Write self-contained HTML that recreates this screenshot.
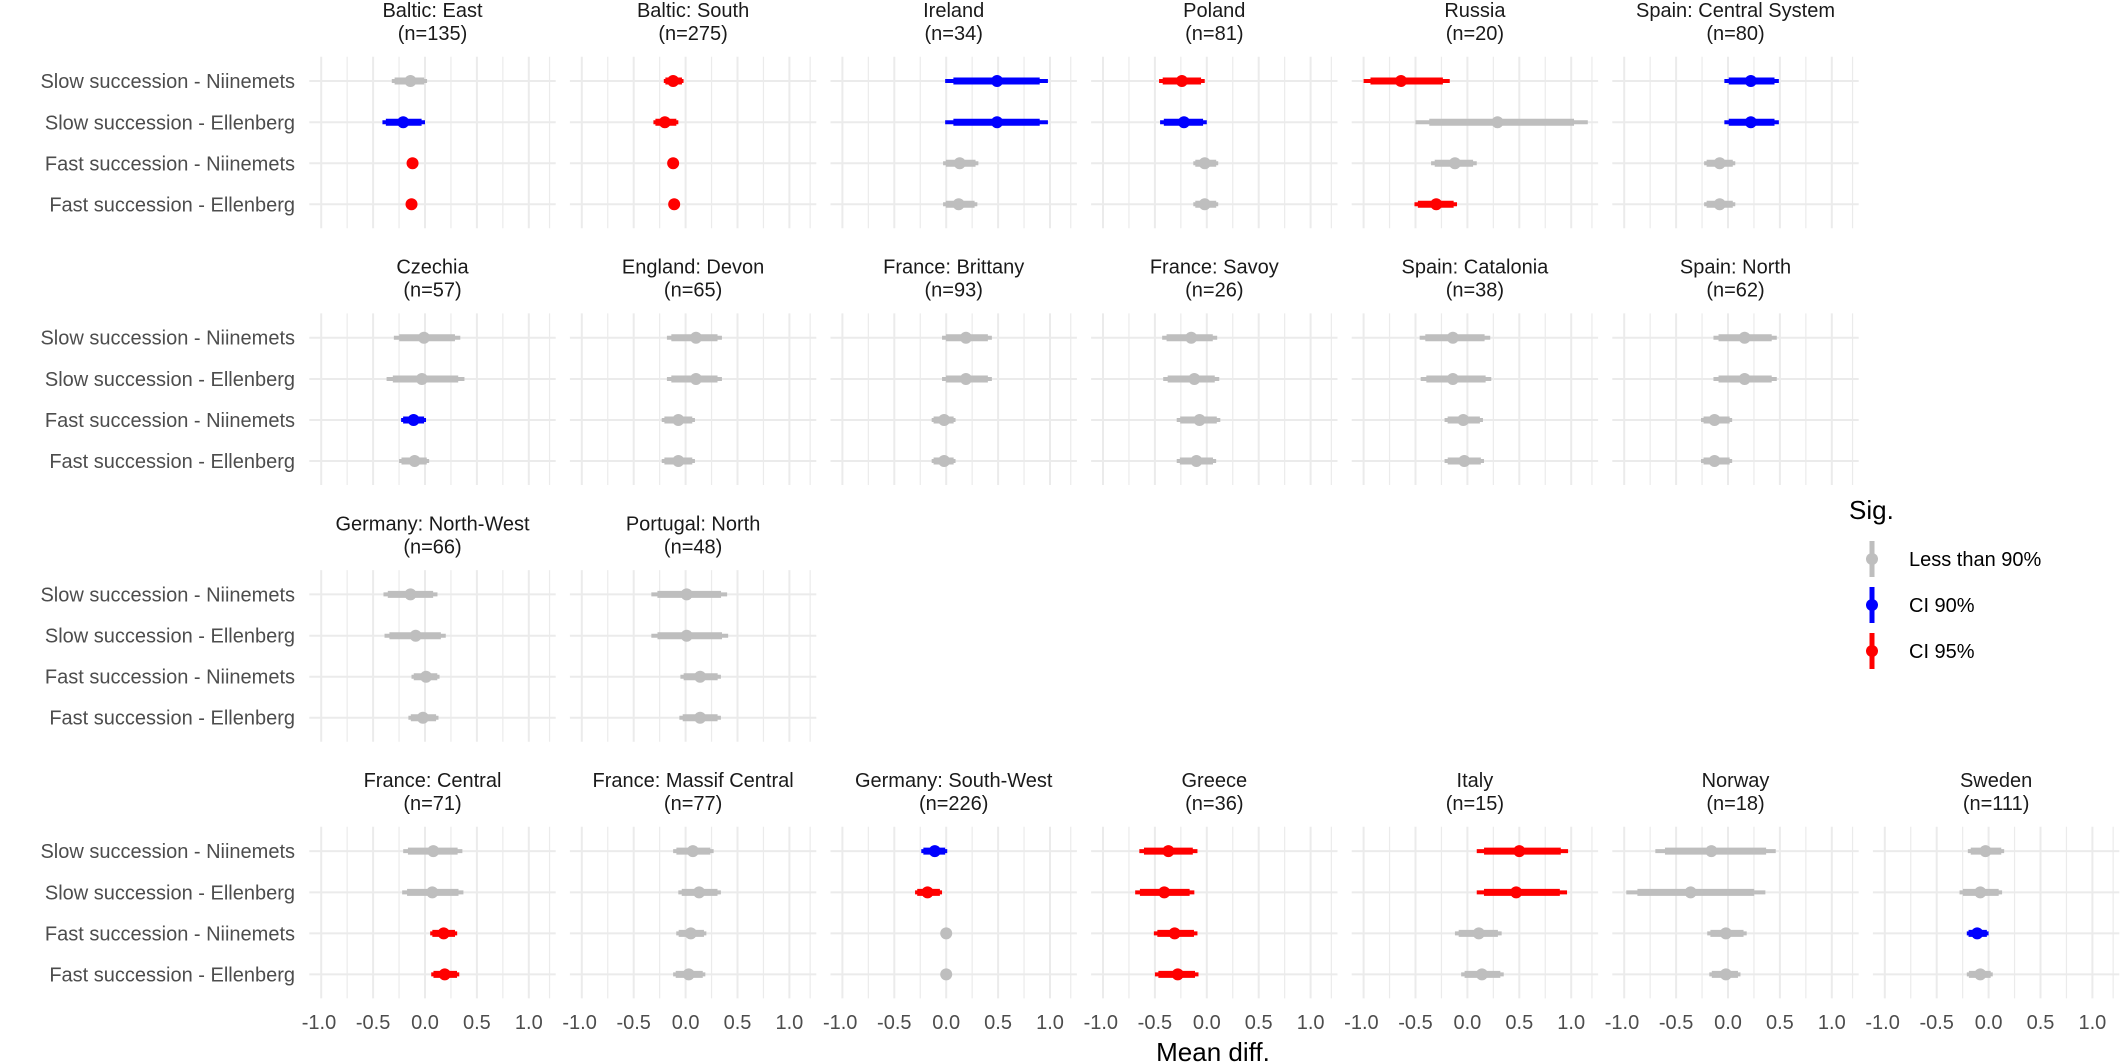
<!DOCTYPE html>
<html><head><meta charset="utf-8"><style>
html,body{margin:0;padding:0;background:#fff;}
svg{display:block;font-family:"Liberation Sans",Arial,sans-serif;}
.t{font-size:20px;fill:#1a1a1a;text-anchor:middle;}
.y{font-size:20px;fill:#4d4d4d;text-anchor:end;}
.x{font-size:20px;fill:#4d4d4d;text-anchor:middle;}
</style></head><body>
<svg id="s" width="2120" height="1063" viewBox="0 0 2120 1063" xmlns="http://www.w3.org/2000/svg">
<g id="grid"></g>
<g id="marks"></g>
<g class="t">
<text x="432.5" y="17">Baltic: East</text><text x="432.5" y="40">(n=135)</text>
<text x="693.1" y="17">Baltic: South</text><text x="693.1" y="40">(n=275)</text>
<text x="953.7" y="17">Ireland</text><text x="953.7" y="40">(n=34)</text>
<text x="1214.3" y="17">Poland</text><text x="1214.3" y="40">(n=81)</text>
<text x="1474.9" y="17">Russia</text><text x="1474.9" y="40">(n=20)</text>
<text x="1735.5" y="17">Spain: Central System</text><text x="1735.5" y="40">(n=80)</text>
<text x="432.5" y="273.7">Czechia</text><text x="432.5" y="296.7">(n=57)</text>
<text x="693.1" y="273.7">England: Devon</text><text x="693.1" y="296.7">(n=65)</text>
<text x="953.7" y="273.7">France: Brittany</text><text x="953.7" y="296.7">(n=93)</text>
<text x="1214.3" y="273.7">France: Savoy</text><text x="1214.3" y="296.7">(n=26)</text>
<text x="1474.9" y="273.7">Spain: Catalonia</text><text x="1474.9" y="296.7">(n=38)</text>
<text x="1735.5" y="273.7">Spain: North</text><text x="1735.5" y="296.7">(n=62)</text>
<text x="432.5" y="530.4">Germany: North-West</text><text x="432.5" y="553.4">(n=66)</text>
<text x="693.1" y="530.4">Portugal: North</text><text x="693.1" y="553.4">(n=48)</text>
<text x="432.5" y="787">France: Central</text><text x="432.5" y="810">(n=71)</text>
<text x="693.1" y="787">France: Massif Central</text><text x="693.1" y="810">(n=77)</text>
<text x="953.7" y="787">Germany: South-West</text><text x="953.7" y="810">(n=226)</text>
<text x="1214.3" y="787">Greece</text><text x="1214.3" y="810">(n=36)</text>
<text x="1474.9" y="787">Italy</text><text x="1474.9" y="810">(n=15)</text>
<text x="1735.5" y="787">Norway</text><text x="1735.5" y="810">(n=18)</text>
<text x="1996.1" y="787">Sweden</text><text x="1996.1" y="810">(n=111)</text>
</g>
<g class="y">
<text x="295" y="88">Slow succession - Niinemets</text><text x="295" y="129.3">Slow succession - Ellenberg</text><text x="295" y="170.3">Fast succession - Niinemets</text><text x="295" y="211.3">Fast succession - Ellenberg</text>
<text x="295" y="344.7">Slow succession - Niinemets</text><text x="295" y="386">Slow succession - Ellenberg</text><text x="295" y="427">Fast succession - Niinemets</text><text x="295" y="468">Fast succession - Ellenberg</text>
<text x="295" y="601.4">Slow succession - Niinemets</text><text x="295" y="642.7">Slow succession - Ellenberg</text><text x="295" y="683.7">Fast succession - Niinemets</text><text x="295" y="724.7">Fast succession - Ellenberg</text>
<text x="295" y="858.1">Slow succession - Niinemets</text><text x="295" y="899.4">Slow succession - Ellenberg</text><text x="295" y="940.4">Fast succession - Niinemets</text><text x="295" y="981.4">Fast succession - Ellenberg</text>
</g>
<g class="x">
<g><text x="319" y="1029">-1.0</text><text x="373.1" y="1029">-0.5</text><text x="425" y="1029">0.0</text><text x="476.9" y="1029">0.5</text><text x="528.8" y="1029">1.0</text></g>
<g transform="translate(260.6,0)"><text x="319" y="1029">-1.0</text><text x="373.1" y="1029">-0.5</text><text x="425" y="1029">0.0</text><text x="476.9" y="1029">0.5</text><text x="528.8" y="1029">1.0</text></g>
<g transform="translate(521.2,0)"><text x="319" y="1029">-1.0</text><text x="373.1" y="1029">-0.5</text><text x="425" y="1029">0.0</text><text x="476.9" y="1029">0.5</text><text x="528.8" y="1029">1.0</text></g>
<g transform="translate(781.8,0)"><text x="319" y="1029">-1.0</text><text x="373.1" y="1029">-0.5</text><text x="425" y="1029">0.0</text><text x="476.9" y="1029">0.5</text><text x="528.8" y="1029">1.0</text></g>
<g transform="translate(1042.4,0)"><text x="319" y="1029">-1.0</text><text x="373.1" y="1029">-0.5</text><text x="425" y="1029">0.0</text><text x="476.9" y="1029">0.5</text><text x="528.8" y="1029">1.0</text></g>
<g transform="translate(1303,0)"><text x="319" y="1029">-1.0</text><text x="373.1" y="1029">-0.5</text><text x="425" y="1029">0.0</text><text x="476.9" y="1029">0.5</text><text x="528.8" y="1029">1.0</text></g>
<g transform="translate(1563.6,0)"><text x="319" y="1029">-1.0</text><text x="373.1" y="1029">-0.5</text><text x="425" y="1029">0.0</text><text x="476.9" y="1029">0.5</text><text x="528.8" y="1029">1.0</text></g>
</g>
<text x="1213" y="1061" style="font-size:26px;fill:#000;text-anchor:middle">Mean diff.</text>
<text x="1849" y="519" style="font-size:26px;fill:#000">Sig.</text>
<g>
<line x1="1872" y1="541" x2="1872" y2="577" stroke="#bebebe" stroke-width="5"/><circle cx="1872" cy="559" r="6" fill="#bebebe"/>
<line x1="1872" y1="587" x2="1872" y2="623" stroke="#0000ff" stroke-width="5"/><circle cx="1872" cy="605" r="6" fill="#0000ff"/>
<line x1="1872" y1="633" x2="1872" y2="669" stroke="#ff0000" stroke-width="5"/><circle cx="1872" cy="651" r="6" fill="#ff0000"/>
</g>
<g style="font-size:20px;fill:#000">
<text x="1909" y="566">Less than 90%</text>
<text x="1909" y="612">CI 90%</text>
<text x="1909" y="658">CI 95%</text>
</g>
</svg>
<script>
var G='#bebebe',B='#0000ff',R='#ff0000';
// [row,col, [[dot,lo,hi,color] x4]]
var P=[
[0,0,[[-0.14,-0.32,0.02,G],[-0.21,-0.41,0.0,B],[-0.12,-0.16,-0.08,R],[-0.13,-0.17,-0.09,R]]],
[0,1,[[-0.12,-0.21,-0.02,R],[-0.2,-0.31,-0.07,R],[-0.12,-0.15,-0.09,R],[-0.11,-0.14,-0.08,R]]],
[0,2,[[0.49,-0.01,0.98,B],[0.49,-0.01,0.98,B],[0.13,-0.03,0.31,G],[0.12,-0.03,0.3,G]]],
[0,3,[[-0.24,-0.46,-0.02,R],[-0.22,-0.45,0.0,B],[-0.02,-0.13,0.11,G],[-0.02,-0.13,0.11,G]]],
[0,4,[[-0.64,-1.0,-0.17,R],[0.29,-0.5,1.16,G],[-0.12,-0.35,0.09,G],[-0.3,-0.51,-0.1,R]]],
[0,5,[[0.22,-0.035,0.49,B],[0.22,-0.035,0.49,B],[-0.08,-0.23,0.07,G],[-0.08,-0.23,0.07,G]]],
[1,0,[[-0.01,-0.3,0.34,G],[-0.03,-0.37,0.38,G],[-0.11,-0.23,0.01,B],[-0.1,-0.25,0.04,G]]],
[1,1,[[0.1,-0.18,0.35,G],[0.1,-0.18,0.35,G],[-0.07,-0.23,0.09,G],[-0.07,-0.23,0.09,G]]],
[1,2,[[0.19,-0.04,0.44,G],[0.19,-0.04,0.44,G],[-0.02,-0.14,0.09,G],[-0.02,-0.14,0.09,G]]],
[1,3,[[-0.15,-0.43,0.1,G],[-0.12,-0.42,0.12,G],[-0.07,-0.29,0.13,G],[-0.1,-0.29,0.09,G]]],
[1,4,[[-0.14,-0.46,0.22,G],[-0.14,-0.45,0.23,G],[-0.04,-0.22,0.15,G],[-0.03,-0.22,0.16,G]]],
[1,5,[[0.16,-0.14,0.47,G],[0.16,-0.14,0.47,G],[-0.13,-0.26,0.04,G],[-0.13,-0.26,0.04,G]]],
[2,0,[[-0.14,-0.4,0.12,G],[-0.09,-0.39,0.2,G],[0.01,-0.13,0.14,G],[-0.02,-0.16,0.13,G]]],
[2,1,[[0.01,-0.33,0.4,G],[0.01,-0.33,0.41,G],[0.14,-0.05,0.34,G],[0.14,-0.06,0.34,G]]],
[3,0,[[0.08,-0.21,0.36,G],[0.07,-0.22,0.37,G],[0.18,0.05,0.31,R],[0.19,0.06,0.33,R]]],
[3,1,[[0.07,-0.12,0.27,G],[0.13,-0.07,0.34,G],[0.05,-0.09,0.2,G],[0.03,-0.12,0.19,G]]],
[3,2,[[-0.11,-0.24,0.01,B],[-0.18,-0.3,-0.04,R],[0.0,-0.02,0.02,G],[0.0,-0.02,0.02,G]]],
[3,3,[[-0.37,-0.65,-0.09,R],[-0.41,-0.69,-0.12,R],[-0.31,-0.51,-0.09,R],[-0.28,-0.5,-0.08,R]]],
[3,4,[[0.5,0.09,0.97,R],[0.47,0.09,0.96,R],[0.11,-0.12,0.33,G],[0.14,-0.06,0.35,G]]],
[3,5,[[-0.16,-0.7,0.46,G],[-0.36,-0.98,0.36,G],[-0.02,-0.2,0.18,G],[-0.02,-0.18,0.12,G]]],
[3,6,[[-0.03,-0.2,0.15,G],[-0.08,-0.28,0.13,G],[-0.11,-0.21,0.0,B],[-0.08,-0.21,0.04,G]]]
];
var ns='http://www.w3.org/2000/svg',grid=document.getElementById('grid'),mk=document.getElementById('marks');
function el(p,t,a){var e=document.createElementNS(ns,t);for(var k in a)e.setAttribute(k,a[k]);p.appendChild(e);return e;}
var RY=[24.3,65.6,106.6,147.6];
P.forEach(function(p){
 var L=309.3+260.6*p[1],T=56.7+256.7*p[0];
 function X(v){return L+115.7+103.8*Math.max(-1.1,Math.min(1.2,v));}
 for(var i=0;i<10;i++){var v=-1+0.25*i;el(grid,'line',{x1:X(v),x2:X(v),y1:T,y2:T+171.6,stroke:'#ebebeb','stroke-width':(i%2?1.2:2)});}
 RY.forEach(function(ry){el(grid,'line',{x1:L,x2:L+246.4,y1:T+ry,y2:T+ry,stroke:'#ebebeb','stroke-width':2});});
 p[2].forEach(function(d,i){var y=T+RY[i],c=d[0],lo=d[1],hi=d[2],w=hi-lo,col=d[3];
  el(mk,'line',{x1:X(lo),x2:X(hi),y1:y,y2:y,stroke:col,'stroke-width':4});
  el(mk,'line',{x1:X(lo+w*0.08),x2:X(hi-w*0.08),y1:y,y2:y,stroke:col,'stroke-width':7});
  el(mk,'circle',{cx:X(c),cy:y,r:6,fill:col});
 });
});
</script>
</body></html>
